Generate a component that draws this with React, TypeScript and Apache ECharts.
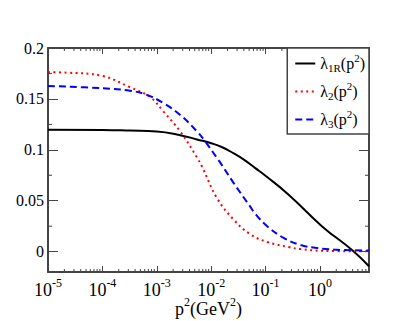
import React, { useEffect, useRef } from 'react';
import * as echarts from 'echarts';

// λ1R(p²)
const lambda1RP2 = [1e-5, 1e-4, 3.2e-4, 1e-3, 2.7e-3, 5.5e-3, 1e-2, 1.6e-2, 2.6e-2, 4e-2, 6.5e-2, 1e-1, 2.66e-1, 1.1, 3.9, 8];
const lambda1RVal = [0.1197, 0.1195, 0.1189, 0.118, 0.1144, 0.1102, 0.1065, 0.1025, 0.0965, 0.0903, 0.082, 0.0745, 0.0559, 0.0248, 0.0016, -0.0144];

// λ2(p²)
const lambda2P2 = [1e-5, 2.2e-5, 1e-4, 3.2e-4, 7.6e-4, 1.33e-3, 2.7e-3, 5.5e-3, 6.8e-3, 1.28e-2, 2.6e-2, 5.2e-2, 1.07e-1, 2.66e-1, 4.4e-1, 1.1, 8];
const lambda2Val = [0.1762, 0.1758, 0.1726, 0.1615, 0.1517, 0.1376, 0.118, 0.0925, 0.0835, 0.0526, 0.0314, 0.0172, 0.0095, 0.0045, 0.0025, 0.0008, 0.0003];

// λ3(p²)
const lambda3P2 = [1e-5, 1e-4, 3.2e-4, 6.6e-4, 1.33e-3, 2.7e-3, 5.5e-3, 7.8e-3, 1.28e-2, 1.58e-2, 2.6e-2, 5.2e-2, 6.5e-2, 1.07e-1, 2.15e-1, 4.4e-1, 8.9e-1, 1.78, 8];
const lambda3Val = [0.1627, 0.1605, 0.1581, 0.154, 0.1458, 0.1343, 0.118, 0.1081, 0.092, 0.085, 0.0673, 0.0444, 0.037, 0.025, 0.0135, 0.0065, 0.0035, 0.002, 0.001];

const seriesNames = ['λ1R', 'λ2', 'λ3'];
const legendLabels: Record<string, string> = {
  'λ1R': '{t|λ}{sub|1R}{t|(p}{sup|2}{t|)}',
  'λ2': '{t|λ}{sub|2}{t|(p}{sup|2}{t|)}',
  'λ3': '{t|λ}{sub|3}{t|(p}{sup|2}{t|)}',
};

const xMin = 1e-5;
const xMax = 8;
const yMin = -0.02;
const yMax = 0.2;
const yMinorTicks = [0.025, 0.075, 0.125, 0.175];
const decades = [1e-5, 1e-4, 1e-3, 1e-2, 1e-1, 1];
const minorMultipliers = [2, 3, 4, 5, 6, 7, 8, 9];

const FONT = "'Liberation Serif', 'Times New Roman', serif";
const FRAME = '#444';

export default function App() {
  const ref = useRef<HTMLDivElement>(null);
  useEffect(() => {
    document.body.style.margin = '0';
    const chart = echarts.init(ref.current!, null, { renderer: 'svg' });

    const xMinor: number[] = [];
    decades.forEach((d) => minorMultipliers.forEach((m) => {
      const v = d * m;
      if (v < xMax) xMinor.push(v);
    }));

    const zip = (xs: number[], ys: number[]) => xs.map((x, i) => [x, ys[i]]);

    const xLabel = (v: number) => {
      const e = Math.log10(v);
      const r = Math.round(e);
      if (Math.abs(e - r) > 1e-6) return '';
      return '{b|10}{s|' + r + '}';
    };
    const yLabel = (v: number) => {
      const k = v / 0.05;
      if (Math.abs(k - Math.round(k)) > 1e-6) return '';
      return String(+v.toFixed(2));
    };

    const xRich = {
      b: { fontFamily: FONT, fontSize: 18, color: '#000' },
      s: { fontFamily: FONT, fontSize: 12, color: '#000', padding: [0, 0, 14, 0] },
    };

    const commonX = {
      type: 'log' as const,
      logBase: 10,
      min: xMin,
      max: xMax,
      axisLine: { show: true, onZero: false, lineStyle: { color: FRAME, width: 2 } },
      axisTick: { show: true, inside: true, length: 6, lineStyle: { color: FRAME, width: 1 } },
      splitLine: { show: false },
    };
    const commonY = {
      type: 'value' as const,
      min: yMin,
      max: yMax,
      axisLine: { show: true, onZero: false, lineStyle: { color: FRAME, width: 2 } },
      axisTick: { show: true, inside: true, length: 10, lineStyle: { color: FRAME, width: 1 } },
      splitLine: { show: false },
    };

    const tickStyle = { stroke: FRAME, lineWidth: 1 };

    const option: any = {
      animation: false,
      backgroundColor: '#fff',
      textStyle: { fontFamily: FONT },
      grid: { left: 48, right: 46, top: 48, bottom: 49, containLabel: false, outerBoundsMode: 'none' },
      legend: {
        data: seriesNames,
        orient: 'vertical',
        right: 46,
        top: 48,
        backgroundColor: '#fff',
        borderColor: FRAME,
        borderWidth: 1.5,
        borderRadius: 0,
        padding: [4, 4, 5, 7],
        itemWidth: 20,
        itemHeight: 14,
        itemGap: 7,
        itemStyle: { opacity: 0 },
        formatter: (name: string) => legendLabels[name],
        textStyle: {
          fontFamily: FONT,
          rich: {
            t: { fontFamily: FONT, fontSize: 16, color: '#000' },
            sub: { fontFamily: FONT, fontSize: 11, color: '#000', padding: [8, 0, 0, 0] },
            sup: { fontFamily: FONT, fontSize: 11, color: '#000', padding: [0, 0, 12, 0] },
          },
        },
      },
      xAxis: [
        {
          ...commonX,
          position: 'bottom',
          axisLabel: { formatter: xLabel, margin: 5, rich: xRich, showMaxLabel: false, fontFamily: FONT },
          name: '{b|p}{s|2}{b|(GeV}{s|2}{b|)}',
          nameLocation: 'middle',
          nameGap: 24,
          nameMoveOverlap: false,
          nameTextStyle: { rich: xRich, fontFamily: FONT },
        },
        {
          ...commonX,
          position: 'top',
          axisLabel: { show: false },
        },
      ],
      yAxis: [
        {
          ...commonY,
          position: 'left',
          axisLabel: {
            formatter: yLabel,
            margin: 4,
            fontFamily: FONT,
            fontSize: 16,
            color: '#000',
            showMinLabel: false,
          },
        },
        {
          ...commonY,
          position: 'right',
          axisLabel: { show: false },
        },
      ],
      series: [
        {
          name: 'λ1R',
          type: 'line',
          data: zip(lambda1RP2, lambda1RVal),
          smooth: 0.5,
          symbol: 'none',
          lineStyle: { color: '#000', width: 2, type: 'solid' },
          itemStyle: { color: '#000' },
          z: 3,
        },
        {
          name: 'λ2',
          type: 'line',
          data: zip(lambda2P2, lambda2Val),
          smooth: 0.4,
          symbol: 'none',
          lineStyle: { color: '#ff0000', width: 2, type: [2, 3.5] },
          itemStyle: { color: '#ff0000' },
          z: 3,
        },
        {
          name: 'λ3',
          type: 'line',
          data: zip(lambda3P2, lambda3Val),
          smooth: 0.4,
          symbol: 'none',
          lineStyle: { color: '#0000ff', width: 2, type: [7, 4] },
          itemStyle: { color: '#0000ff' },
          z: 3,
        },
        {
          name: 'xMinorTicks',
          type: 'custom',
          silent: true,
          clip: false,
          data: xMinor.map((v) => [v, 0]),
          renderItem: (params: any, api: any) => {
            const x = api.coord([api.value(0), 0])[0];
            const cs = params.coordSys;
            return {
              type: 'group',
              children: [
                { type: 'line', shape: { x1: x, y1: cs.y + cs.height, x2: x, y2: cs.y + cs.height - 3 }, style: tickStyle },
                { type: 'line', shape: { x1: x, y1: cs.y, x2: x, y2: cs.y + 3 }, style: tickStyle },
              ],
            };
          },
        },
        {
          name: 'yMinorTicks',
          type: 'custom',
          silent: true,
          clip: false,
          data: yMinorTicks.map((v) => [1, v]),
          renderItem: (params: any, api: any) => {
            const y = api.coord([1, api.value(1)])[1];
            const cs = params.coordSys;
            return {
              type: 'group',
              children: [
                { type: 'line', shape: { x1: cs.x, y1: y, x2: cs.x + 4, y2: y }, style: tickStyle },
                { type: 'line', shape: { x1: cs.x + cs.width, y1: y, x2: cs.x + cs.width - 4, y2: y }, style: tickStyle },
              ],
            };
          },
        },
      ],
    };

    chart.setOption(option);
    return () => chart.dispose();
  }, []);
  return <div ref={ref} style={{ width: 415, height: 321 }} />;
}
